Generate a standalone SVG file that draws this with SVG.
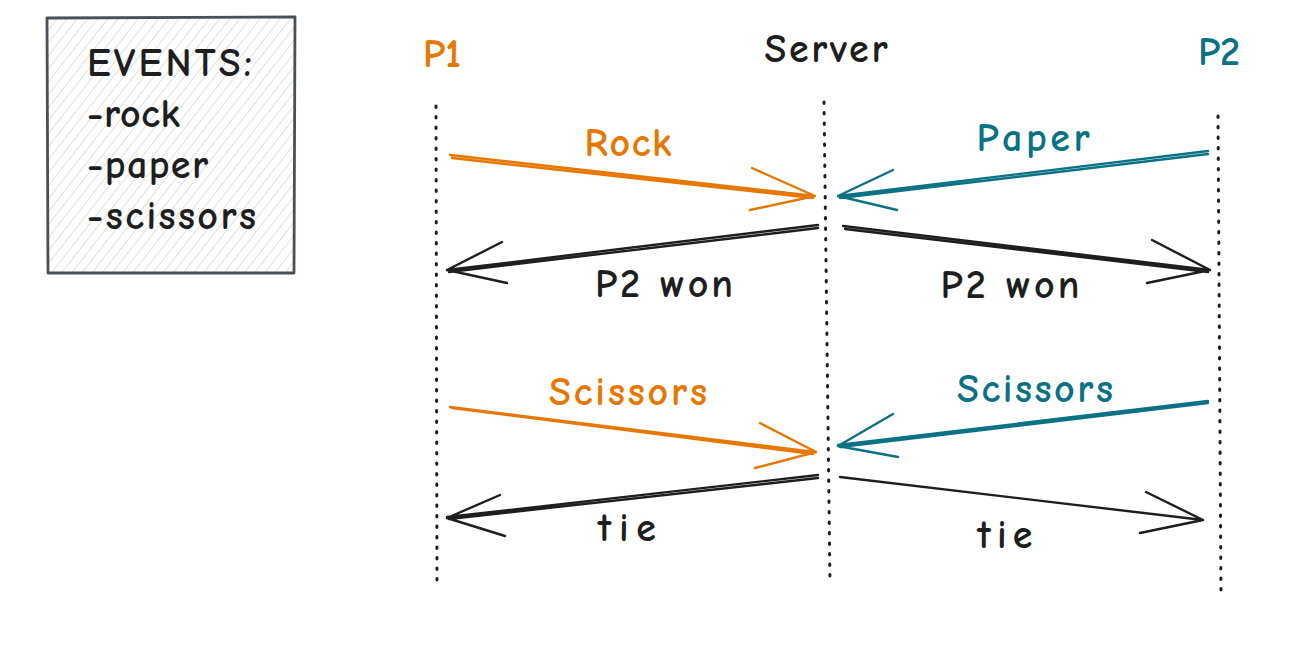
<svg xmlns="http://www.w3.org/2000/svg" width="1298" height="661" viewBox="0 0 1298 661">
<defs>
<pattern id="hatch" width="8" height="8" patternUnits="userSpaceOnUse" patternTransform="rotate(38)">
<line x1="0" y1="0" x2="0" y2="8" stroke="#c3c6c9" stroke-width="1.1"/>
</pattern>
</defs>
<style>
.t{font-family:"Comic Neue","Liberation Sans",sans-serif;font-size:40px;font-weight:bold;text-anchor:middle}
.k{fill:#1e1e1e}
.o{fill:#e67700}
.b{fill:#0b7285}
.life{stroke:#1e1e1e;stroke-width:3;stroke-dasharray:1.5 9;stroke-linecap:round;fill:none}
.a{fill:none;stroke-width:2.4;stroke-linecap:round;stroke-linejoin:round}
.ao{stroke:#e67700}
.ab{stroke:#0b7285}
.ak{stroke:#1e1e1e}
</style>
<rect width="1298" height="661" fill="#ffffff"/>

<g id="legend">
<rect x="48" y="19" width="246" height="253" fill="url(#hatch)"/>
<path d="M47 18 L295 17 L294 273 L48 273 Z" fill="none" stroke="#495057" stroke-width="2.8" stroke-linejoin="round"/>
<text class="t k" x="87" y="76" style="text-anchor:start" textLength="165">EVENTS:</text>
<text class="t k" x="87" y="127" style="text-anchor:start" textLength="93">-rock</text>
<text class="t k" x="87" y="178" style="text-anchor:start" textLength="121">-paper</text>
<text class="t k" x="87" y="229" style="text-anchor:start" textLength="169">-scissors</text>
</g>

<g id="p1">
<text class="t o" x="442" y="67">P1</text>
<path class="life" d="M436 106 L437 588"/>
</g>
<g id="server">
<text class="t k" x="826" y="62" textLength="123">Server</text>
<path class="life" d="M824 102 L830 584"/>
</g>
<g id="p2">
<text class="t b" x="1219" y="65">P2</text>
<path class="life" d="M1218 116 L1221 598"/>
</g>

<g id="connectors">
<g id="rock">
<path class="a ao" d="M450 155 L815 196 M452 158 L813 198 M752 168 L815 196 L750 210"/>
<text class="t o" x="628" y="156" textLength="87">Rock</text>
</g>
<g id="paper">
<path class="a ab" d="M1208 151 L838 196 M1208 154 L840 198 M893 170 L838 196 L897 210"/>
<text class="t b" x="1033" y="151" textLength="113">Paper</text>
</g>
<g id="p2won1">
<path class="a ak" d="M818 225 L447 270 M818 228 L449 272 M502 242 L447 270 L507 283"/>
<text class="t k" x="664" y="297" textLength="138">P2 won</text>
</g>
<g id="p2won2">
<path class="a ak" d="M843 226 L1210 270 M845 229 L1208 272 M1152 240 L1210 270 L1147 283"/>
<text class="t k" x="1010" y="298" textLength="139">P2 won</text>
</g>
<g id="scis1">
<path class="a ao" d="M450 407 L815 452 M452 408 L813 454 M760 423 L816 452 L755 468"/>
<text class="t o" x="628" y="405" textLength="158">Scissors</text>
</g>
<g id="scis2">
<path class="a ab" d="M1208 401 L838 445 M1208 403 L840 447 M893 414 L838 446 L898 457"/>
<text class="t b" x="1035" y="402" textLength="156">Scissors</text>
</g>
<g id="tie1">
<path class="a ak" d="M818 475 L447 517 M818 478 L449 519 M500 495 L447 518 L505 536"/>
<text class="t k" x="627" y="541" textLength="58">tie</text>
</g>
<g id="tie2">
<path class="a ak" d="M840 477 L1203 520 M1146 492 L1203 520 L1140 533"/>
<text class="t k" x="1005" y="548" textLength="55">tie</text>
</g>
</g>
</svg>
